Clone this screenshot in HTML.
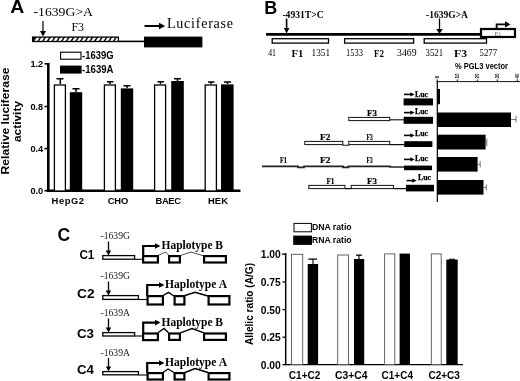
<!DOCTYPE html>
<html>
<head>
<meta charset="utf-8">
<title>Figure</title>
<style>
html,body{margin:0;padding:0;background:#fff;}
body{width:520px;height:381px;overflow:hidden;}
svg{display:block;}
.sans{font-family:"Liberation Sans",sans-serif;}
.serif{font-family:"Liberation Serif",serif;}
.b{font-weight:bold;}
</style>
</head>
<body>
<svg width="520" height="381" viewBox="0 0 520 381">
<rect width="520" height="381" fill="#fff"/>

<!-- ================= Panel A ================= -->
<g id="panelA">
<text x="10.300" y="13.300" class="sans b" font-size="18" textLength="14" lengthAdjust="spacingAndGlyphs">A</text>
<text x="33.5" y="15.6" class="serif" font-size="13.5" textLength="59.5" lengthAdjust="spacingAndGlyphs">-1639G&gt;A</text>
<text x="71.5" y="31" class="serif" font-size="12" textLength="12.5" lengthAdjust="spacingAndGlyphs">F3</text>
<!-- down arrow -->
<line x1="43" y1="21" x2="43" y2="33" stroke="#000" stroke-width="1.2"/>
<polygon points="40,31 46,31 43,36.5" fill="#000"/>
<!-- hatched bar -->
<clipPath id="hc"><rect x="32.500" y="37" width="86" height="4.600"/></clipPath>
<rect x="32.500" y="37" width="86" height="4.600" fill="#111"/>
<path clip-path="url(#hc)" d="M35.2,42.200 L38.8,36.400 M39.9,42.200 L43.5,36.400 M44.6,42.200 L48.2,36.400 M49.4,42.200 L53.0,36.400 M54.1,42.200 L57.7,36.400 M58.8,42.200 L62.4,36.400 M63.5,42.200 L67.1,36.400 M68.2,42.200 L71.8,36.400 M73.0,42.200 L76.6,36.400 M77.7,42.200 L81.3,36.400 M82.4,42.200 L86.0,36.400 M87.1,42.200 L90.7,36.400 M91.8,42.200 L95.4,36.400 M96.6,42.200 L100.2,36.400 M101.3,42.200 L104.9,36.400 M106.0,42.200 L109.6,36.400 M110.7,42.200 L114.3,36.400 M115.4,42.200 L119.0,36.400" stroke="#fff" stroke-width="2.500" fill="none"/>
<rect x="32.600" y="37.100" width="85.800" height="4.400" fill="none" stroke="#000" stroke-width="1.300"/>
<line x1="118.500" y1="41.4" x2="146" y2="41.4" stroke="#000" stroke-width="1.6"/>
<rect x="144" y="36.6" width="58.4" height="10.8" fill="#000"/>
<!-- luciferase arrow -->
<line x1="144.5" y1="26" x2="160" y2="26" stroke="#000" stroke-width="2"/>
<polygon points="159,22.800 165.200,26 159,29.200" fill="#000"/>
<text x="167" y="28" class="serif" font-size="14" textLength="66" lengthAdjust="spacing">Luciferase</text>

<!-- legend -->
<rect x="60.600" y="52.200" width="20.400" height="7" fill="#fff" stroke="#000" stroke-width="1.1"/>
<rect x="60" y="65.600" width="21.600" height="8" fill="#000"/>
<text x="82" y="58.900" class="sans b" font-size="10" textLength="31.5" lengthAdjust="spacingAndGlyphs">-1639G</text>
<text x="82" y="73" class="sans b" font-size="10" textLength="31.5" lengthAdjust="spacingAndGlyphs">-1639A</text>

<!-- axes -->
<line x1="48.300" y1="63" x2="48.300" y2="192" stroke="#000" stroke-width="2.6"/>
<line x1="46.6" y1="190.700" x2="240.5" y2="190.700" stroke="#000" stroke-width="2.6"/>
<g stroke="#000" stroke-width="1.6">
<line x1="44.5" y1="63.800" x2="48" y2="63.800"/>
<line x1="44.5" y1="106.5" x2="48" y2="106.5"/>
<line x1="44.5" y1="148.6" x2="48" y2="148.6"/>
<line x1="44.5" y1="190.700" x2="48" y2="190.700"/>
</g>
<g class="sans b" font-size="9.200" text-anchor="end">
<text x="43.2" y="67.2">1.2</text>
<text x="43.2" y="109.800">0.8</text>
<text x="43.2" y="151.900">0.4</text>
<text x="43.2" y="194">0.0</text>
</g>
<!-- y title -->
<text transform="translate(9.200,121) rotate(-90)" text-anchor="middle" class="sans b" font-size="11.5" textLength="107" lengthAdjust="spacingAndGlyphs">Relative luciferase</text>
<text transform="translate(21.200,121.5) rotate(-90)" text-anchor="middle" class="sans b" font-size="11.5" textLength="41" lengthAdjust="spacingAndGlyphs">activity</text>

<!-- bars -->
<g stroke="#000" stroke-width="1.5" fill="none">
<path d="M60.300,84 V78.800 M56.500,78.800 H63.500"/>
<path d="M76,92 V88.800 M72.500,88.800 H79.500"/>
<path d="M110,84 V81.800 M107,81.800 H113.500"/>
<path d="M127,88 V85.800 M123.500,85.800 H130.500"/>
<path d="M160.500,84 V81.800 M157.500,81.800 H164"/>
<path d="M177.500,82 V78.800 M174,78.800 H181"/>
<path d="M211,84 V82 M208,82 H214.500"/>
<path d="M227.500,84 V82 M224,82 H231"/>
</g>
<g fill="#fff" stroke="#000" stroke-width="1.3">
<rect x="54.400" y="85" width="11" height="106"/>
<rect x="104.400" y="85" width="11" height="106"/>
<rect x="154.600" y="85" width="11" height="106"/>
<rect x="205.200" y="85" width="11.200" height="106"/>
</g>
<g fill="#000">
<rect x="69.800" y="92.200" width="12.400" height="99"/>
<rect x="120.800" y="88.400" width="12.400" height="103"/>
<rect x="171.200" y="81" width="12.600" height="110"/>
<rect x="221" y="84.400" width="12.600" height="107"/>
</g>
<g class="sans b" font-size="9.400" text-anchor="middle">
<text x="67.800" y="203.700" textLength="32.500" lengthAdjust="spacing">HepG2</text>
<text x="118" y="203.700" textLength="20.500" lengthAdjust="spacing">CHO</text>
<text x="168.300" y="203.700" textLength="25.500" lengthAdjust="spacing">BAEC</text>
<text x="218" y="203.700" textLength="20" lengthAdjust="spacing">HEK</text>
</g>
</g>

<!-- ================= Panel B ================= -->
<g id="panelB">
<text x="264.300" y="13.600" class="sans b" font-size="18.500" textLength="13" lengthAdjust="spacingAndGlyphs">B</text>
<text x="282.400" y="17.600" class="serif b" font-size="9.500" textLength="41.200" lengthAdjust="spacingAndGlyphs">-4931T&gt;C</text>
<text x="426" y="17.800" class="serif b" font-size="9.500" textLength="42" lengthAdjust="spacingAndGlyphs">-1639G&gt;A</text>
<!-- arrows -->
<line x1="286.600" y1="18.500" x2="286.600" y2="30" stroke="#000" stroke-width="1.6"/>
<polygon points="283.800,28 289.400,28 286.600,33.500" fill="#000"/>
<line x1="439.500" y1="18.500" x2="439.500" y2="30" stroke="#000" stroke-width="1.3"/>
<polygon points="436.300,29 442.700,29 439.500,34" fill="#000"/>
<!-- main line -->
<line x1="266" y1="34.400" x2="481" y2="34.400" stroke="#000" stroke-width="2.600"/>
<!-- boxes -->
<g fill="#fff" stroke="#000" stroke-width="1.3">
<rect x="272.200" y="38.700" width="56.300" height="4.400"/>
<rect x="344.600" y="38.700" width="69" height="4.400"/>
<rect x="424.200" y="38.700" width="62.300" height="4.400"/>
</g>
<rect x="481" y="29" width="34" height="8" fill="#fff" stroke="#000" stroke-width="2.200"/>
<text x="498" y="36" text-anchor="middle" class="serif" font-size="7" fill="#666" textLength="7" lengthAdjust="spacingAndGlyphs">E1</text>
<path d="M496.600,28 V24.400 H506" fill="none" stroke="#000" stroke-width="1.800"/>
<polygon points="505,21.200 510.500,24.400 505,27.600" fill="#000"/>
<!-- numbers -->
<g class="serif" font-size="9.500" fill="#000">
<text x="268.200" y="56.200" textLength="7.800" lengthAdjust="spacingAndGlyphs">41</text>
<text x="311.500" y="56.200" textLength="18.500" lengthAdjust="spacingAndGlyphs">1351</text>
<text x="346" y="56.200" textLength="17" lengthAdjust="spacingAndGlyphs">1533</text>
<text x="397" y="56.200" textLength="19.500" lengthAdjust="spacingAndGlyphs">3469</text>
<text x="425.600" y="56.200" textLength="17.500" lengthAdjust="spacingAndGlyphs">3521</text>
<text x="479.600" y="56.200" textLength="17.500" lengthAdjust="spacingAndGlyphs">5277</text>
</g>
<g class="serif b" font-size="10.800">
<text x="291.600" y="57" textLength="11.800" lengthAdjust="spacingAndGlyphs">F1</text>
<text x="374" y="57" textLength="10" lengthAdjust="spacingAndGlyphs">F2</text>
<text x="454" y="57" textLength="13" lengthAdjust="spacingAndGlyphs">F3</text>
</g>
<text x="455" y="68.800" class="sans b" font-size="8.600" textLength="53" lengthAdjust="spacingAndGlyphs">% PGL3 vector</text>

<!-- axis -->
<line x1="436.600" y1="81.600" x2="520" y2="81.600" stroke="#111" stroke-width="1"/>
<line x1="437.300" y1="81" x2="437.300" y2="202" stroke="#000" stroke-width="1.200"/>
<g stroke="#111" stroke-width="1">
<line x1="437.300" y1="79.400" x2="437.300" y2="82"/>
<line x1="457.300" y1="79.400" x2="457.300" y2="82"/>
<line x1="477.300" y1="79.400" x2="477.300" y2="82"/>
<line x1="497.300" y1="79.400" x2="497.300" y2="82"/>
<line x1="517.300" y1="79.400" x2="517.300" y2="82"/>
</g>
<g class="sans b" font-size="5.800">
<text transform="translate(439.400,78.400) rotate(-90)" textLength="2.800" lengthAdjust="spacingAndGlyphs">0</text>
<text transform="translate(459.400,78.400) rotate(-90)" textLength="5" lengthAdjust="spacingAndGlyphs">10</text>
<text transform="translate(479.400,78.400) rotate(-90)" textLength="5" lengthAdjust="spacingAndGlyphs">20</text>
<text transform="translate(499.400,78.400) rotate(-90)" textLength="5" lengthAdjust="spacingAndGlyphs">30</text>
<text transform="translate(519.400,78.400) rotate(-90)" textLength="5" lengthAdjust="spacingAndGlyphs">40</text>
</g>
<!-- bars -->
<g fill="#000">
<rect x="437" y="89" width="3" height="15.200"/>
<rect x="437" y="112.500" width="74" height="14.500"/>
<rect x="437" y="134.700" width="48.600" height="14.800"/>
<rect x="437" y="157" width="40.600" height="14.600"/>
<rect x="437" y="180" width="46.500" height="14.600"/>
</g>
<g stroke="#555" stroke-width="0.800" fill="none">
<path d="M511,119.500 H516 M516,115.500 V122.500"/>
<path d="M485,142 H486.800 M486.800,138.500 V146"/>
<path d="M477,164.300 H480.200 M480.200,161 V167.600"/>
<path d="M483,187.400 H486.400 M486.400,184.400 V190.400"/>
</g>
<!-- Luc boxes -->
<g fill="#000">
<rect x="403.600" y="98.400" width="29.400" height="7"/>
<rect x="403.600" y="116.800" width="29.400" height="7"/>
<rect x="404.200" y="141.200" width="28.200" height="5.800"/>
<rect x="404" y="165.600" width="28" height="4.600"/>
<rect x="406" y="184.800" width="28" height="6.600"/>
</g>
<!-- Luc labels -->
<g class="serif b" font-size="8" stroke="#000" stroke-width="0.250">
<text x="415" y="96.600" textLength="13" lengthAdjust="spacingAndGlyphs">Luc</text>
<text x="415" y="114" textLength="13" lengthAdjust="spacingAndGlyphs">Luc</text>
<text x="415" y="136" textLength="13" lengthAdjust="spacingAndGlyphs">Luc</text>
<text x="415" y="160.500" textLength="13" lengthAdjust="spacingAndGlyphs">Luc</text>
<text x="418" y="179.600" textLength="13" lengthAdjust="spacingAndGlyphs">Luc</text>
</g>
<g stroke="#000" stroke-width="1.600">
<line x1="404" y1="94.400" x2="411" y2="94.400"/>
<line x1="404" y1="112.600" x2="411" y2="112.600"/>
<line x1="404" y1="135.400" x2="411" y2="135.400"/>
<line x1="404" y1="159.400" x2="411" y2="159.400"/>
<line x1="406.600" y1="180.600" x2="413" y2="180.600"/>
</g>
<g fill="#000">
<polygon points="410.400,92.200 414.600,94.400 410.400,96.600"/>
<polygon points="410.400,110.400 414.600,112.600 410.400,114.800"/>
<polygon points="410.400,133.200 414.600,135.400 410.400,137.600"/>
<polygon points="410.400,157.200 414.600,159.400 410.400,161.600"/>
<polygon points="412.400,178.400 416.600,180.600 412.400,182.800"/>
</g>
<!-- constructs -->
<g fill="#fff" stroke="#111" stroke-width="1">
<rect x="348.800" y="117.400" width="41" height="3.200"/>
<rect x="304.800" y="141.400" width="38" height="3.200"/>
<rect x="348.800" y="141.400" width="41" height="3.200"/>
<rect x="308.800" y="185.400" width="36.200" height="3.200"/>
<rect x="351.200" y="185.400" width="42.200" height="3.200"/>
</g>
<g fill="none" stroke="#111" stroke-width="1.100">
<path d="M390,119.800 H404"/>
<path d="M343,144.600 V145.200 H348.600 V144.600 M390,144.600 H404.500"/>
<path d="M345,188.600 H351 M393.400,188.600 H406"/>
</g>
<path d="M262,166.400 H298 V167.400 H304 V166.400 H343 V167.400 H348.500 V166.400 H390 V167 H404" fill="none" stroke="#222" stroke-width="1.700"/>
<g class="serif b" font-size="9" stroke="#000" stroke-width="0.200">
<text x="367" y="115.600" textLength="10" lengthAdjust="spacingAndGlyphs">F3</text>
<text x="320" y="139.600" textLength="10.400" lengthAdjust="spacingAndGlyphs">F2</text>
<text x="366.600" y="139.600" textLength="6" lengthAdjust="spacingAndGlyphs">F3</text>
<text x="280" y="163" textLength="7" lengthAdjust="spacingAndGlyphs">F1</text>
<text x="320" y="163" textLength="10.400" lengthAdjust="spacingAndGlyphs">F2</text>
<text x="366.600" y="163" textLength="6" lengthAdjust="spacingAndGlyphs">F3</text>
<text x="326.400" y="184.400" textLength="8" lengthAdjust="spacingAndGlyphs">F1</text>
<text x="367" y="184.400" textLength="10" lengthAdjust="spacingAndGlyphs">F3</text>
</g>
</g>

<!-- ================= Panel C ================= -->
<g id="panelC">
<text x="57.500" y="240.800" class="sans b" font-size="17.500">C</text>
<g class="sans b" font-size="13.500">
<text x="79.400" y="258.800" textLength="15" lengthAdjust="spacingAndGlyphs">C1</text>
<text x="77" y="298.200" textLength="17.500" lengthAdjust="spacingAndGlyphs">C2</text>
<text x="77" y="337.700" textLength="17" lengthAdjust="spacingAndGlyphs">C3</text>
<text x="77" y="374.300" textLength="17" lengthAdjust="spacingAndGlyphs">C4</text>
</g>
<g class="serif" font-size="9.500" fill="#222">
<text x="100.500" y="239" textLength="29.500" lengthAdjust="spacingAndGlyphs">-1639G</text>
<text x="100.500" y="279" textLength="29.500" lengthAdjust="spacingAndGlyphs">-1639G</text>
<text x="100.500" y="316" textLength="29.500" lengthAdjust="spacingAndGlyphs">-1639A</text>
<text x="100.500" y="355.500" textLength="29.500" lengthAdjust="spacingAndGlyphs">-1639A</text>
</g>
<!-- arrows down -->
<g stroke="#000" stroke-width="1.300">
<line x1="108.500" y1="241.500" x2="108.500" y2="252"/>
<line x1="108.500" y1="281.500" x2="108.500" y2="292"/>
<line x1="108.500" y1="318.500" x2="108.500" y2="329"/>
<line x1="108.500" y1="358" x2="108.500" y2="368"/>
</g>
<g fill="#000">
<polygon points="105.800,250.500 111.200,250.500 108.500,255.500"/>
<polygon points="105.800,290.500 111.200,290.500 108.500,295.500"/>
<polygon points="105.800,327.500 111.200,327.500 108.500,332.500"/>
<polygon points="105.800,366.500 111.200,366.500 108.500,371.500"/>
</g>
<!-- white promoter boxes -->
<g fill="#fff" stroke="#000" stroke-width="1.300">
<rect x="102.800" y="255.600" width="31.800" height="3.600"/>
<rect x="102.800" y="295.600" width="35.600" height="3.800"/>
<rect x="102.800" y="332.600" width="31.800" height="3.400"/>
<rect x="102.800" y="371.600" width="35.600" height="3.200"/>
</g>
<g stroke="#000" stroke-width="1.100">
<line x1="134.500" y1="259.300" x2="143" y2="259.300"/>
<line x1="138.500" y1="299.500" x2="147" y2="299.500"/>
<line x1="134.500" y1="336" x2="143" y2="336"/>
<line x1="138.500" y1="375" x2="147" y2="375"/>
</g>
<!-- exons -->
<g fill="#fff" stroke="#000" stroke-width="2.200">
<rect x="143.100" y="256.100" width="14.800" height="6.400"/>
<rect x="169.100" y="256.100" width="10.800" height="6.400"/>
<rect x="204.100" y="256.100" width="21.800" height="6.400"/>

<rect x="147.600" y="296.100" width="15.300" height="8.400"/>
<rect x="174.600" y="296.100" width="9.800" height="8.400"/>
<rect x="208.600" y="296.100" width="20.800" height="8.400"/>

<rect x="143.100" y="333.500" width="14.800" height="6.600"/>
<rect x="169.100" y="333.500" width="10.800" height="6.400"/>
<rect x="204.100" y="333.500" width="21.800" height="6.400"/>

<rect x="147.600" y="373.100" width="15.300" height="6.400"/>
<rect x="174.600" y="373.100" width="9.800" height="6.400"/>
<rect x="208.600" y="373.100" width="20.800" height="6.400"/>
</g>
<!-- promoter arrows -->
<g fill="none" stroke="#000" stroke-width="2.200">
<path d="M143.200,256 V246 H156"/>
<path d="M147.200,296 V285 H160"/>
<path d="M143.200,333 V322.600 H156"/>
<path d="M147.200,373 V363 H160"/>
</g>
<g fill="#000">
<polygon points="155,243.200 160.500,246 155,248.800"/>
<polygon points="159,282.200 164.500,285 159,287.800"/>
<polygon points="155,319.800 160.500,322.600 155,325.400"/>
<polygon points="159,360.200 164.500,363 159,365.800"/>
</g>
<!-- splicing -->
<g fill="none" stroke="#000">
<path d="M158,255.500 L165.500,252 L169,255.500 M180.500,255.500 L191,252 L204,256" stroke-width="0.700"/>
<path d="M163,295.500 L168.500,292.300 L174,296 M185,295.500 L195,292.300 L208,296" stroke-width="1.400"/>
<path d="M158,332.800 L164,328.500 L168.500,332.800 M180.500,332.800 L192,328.500 L204,332.800" stroke-width="1.400"/>
<path d="M163,372.500 L168,369 L174,372.500 M185,372.500 L195,368.500 L208,372.500" stroke-width="1.400"/>
</g>
<g class="serif b" font-size="11.500">
<text x="161.500" y="248.500" textLength="61.500" lengthAdjust="spacingAndGlyphs">Haplotype B</text>
<text x="165" y="288" textLength="62" lengthAdjust="spacingAndGlyphs">Haplotype A</text>
<text x="161.500" y="325.500" textLength="61.500" lengthAdjust="spacingAndGlyphs">Haplotype B</text>
<text x="165" y="365.500" textLength="62" lengthAdjust="spacingAndGlyphs">Haplotype A</text>
</g>

<!-- chart -->
<rect x="294" y="223.400" width="17.400" height="8.400" fill="#fff" stroke="#000" stroke-width="1"/>
<rect x="293.200" y="235.600" width="18.800" height="9.300" fill="#000"/>
<text x="312" y="230.400" class="sans b" font-size="9.300" textLength="39.600" lengthAdjust="spacingAndGlyphs">DNA ratio</text>
<text x="312" y="242.800" class="sans b" font-size="9.300" textLength="39.600" lengthAdjust="spacingAndGlyphs">RNA ratio</text>

<line x1="285.700" y1="253" x2="285.700" y2="365.200" stroke="#000" stroke-width="1.500"/>
<line x1="285" y1="364.600" x2="463" y2="364.600" stroke="#000" stroke-width="1.300"/>
<g stroke="#000" stroke-width="1.300">
<line x1="282" y1="254.200" x2="285.500" y2="254.200"/>
<line x1="282.500" y1="281.900" x2="285.500" y2="281.900"/>
<line x1="282.500" y1="309.600" x2="285.500" y2="309.600"/>
<line x1="282.500" y1="337.200" x2="285.500" y2="337.200"/>
<line x1="282.500" y1="364.600" x2="285.500" y2="364.600"/>
</g>
<g class="sans b" font-size="10.300" text-anchor="end">
<text x="280.800" y="258.200">1.00</text>
<text x="280.800" y="286.100">0.75</text>
<text x="280.800" y="313.900">0.50</text>
<text x="280.800" y="341.200">0.25</text>
<text x="280.800" y="368.500">0.00</text>
</g>
<text transform="translate(253.400,304) rotate(-90)" text-anchor="middle" class="sans b" font-size="10" textLength="82" lengthAdjust="spacingAndGlyphs">Allelic ratio (A/G)</text>

<g fill="#fff" stroke="#555" stroke-width="0.900">
<rect x="291.500" y="254.300" width="11.200" height="110.300"/>
<rect x="337.700" y="255" width="10.800" height="109.600"/>
<rect x="384.600" y="253.900" width="10.200" height="110.700"/>
<rect x="431.300" y="253.900" width="9.900" height="110.700"/>
</g>
<g fill="#000">
<rect x="307.700" y="264" width="10.400" height="100.600"/>
<rect x="354" y="259" width="10.200" height="105.600"/>
<rect x="399.600" y="253.600" width="10.400" height="111"/>
<rect x="446.300" y="259.600" width="11.400" height="105"/>
</g>
<g stroke="#000" stroke-width="1.100" fill="none">
<path d="M313,264.500 V259.100 M308.300,259.100 H317"/>
<path d="M359,259.500 V255.100 M356,255.100 H362"/>
<path d="M449,259.300 H455"/>
</g>
<g class="sans b" font-size="10.400" text-anchor="middle">
<text x="304.600" y="379" textLength="31.500" lengthAdjust="spacingAndGlyphs">C1+C2</text>
<text x="351.200" y="379" textLength="32.500" lengthAdjust="spacingAndGlyphs">C3+C4</text>
<text x="397.300" y="379" textLength="31.500" lengthAdjust="spacingAndGlyphs">C1+C4</text>
<text x="444.200" y="379" textLength="31.500" lengthAdjust="spacingAndGlyphs">C2+C3</text>
</g>
</g>
</svg>
</body>
</html>
